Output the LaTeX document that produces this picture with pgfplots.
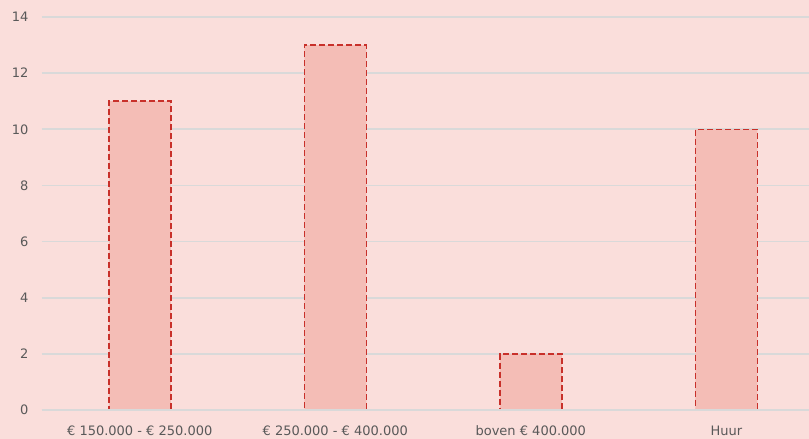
\documentclass[border=0pt]{standalone}
\usepackage{pgfplots}
\pgfplotsset{compat=1.18}
\usepackage{fontspec}
\setmainfont{DejaVu Sans}
\definecolor{bg}{HTML}{FADEDB}
\definecolor{barfill}{HTML}{F4BDB6}
\definecolor{barline}{HTML}{C8302A}
\definecolor{gridc}{HTML}{D9D9D9}
\definecolor{txt}{HTML}{595959}
\begin{document}
\begin{tikzpicture}
\fill[bg] (0,0) rectangle (809pt,439pt);
\useasboundingbox (0,0) rectangle (809pt,439pt);
\begin{axis}[
  at={(42pt,29pt)}, anchor=south west,
  scale only axis, width=767pt, height=393pt,
  xmin=-0.5, xmax=3.423, ymin=0, ymax=14,
  ytick={0,2,...,14},
  xtick={0,1,2,3},
  xticklabels={€ 150.000 - € 250.000, € 250.000 - € 400.000, boven € 400.000, Huur},
  axis line style={draw=none},
  major tick length=0pt,
  ymajorgrids, grid style={gridc, line width=1.6pt},
  tick label style={font=\fontsize{13}{15}\selectfont, text=txt},
  yticklabel style={xshift=-10pt},
  xticklabel style={anchor=base, yshift=-26pt},
  /pgf/number format/assume math mode=true,
  clip=false,
]
\addplot[ybar, bar width=62pt, fill=barfill, draw=barline, line width=1.5pt, dash pattern=on 6pt off 3pt]
  coordinates {(0,11) (1,13) (2,2) (3,10)};
\draw[gridc, line width=2pt] (axis cs:-0.5,0) -- (axis cs:3.423,0);
\end{axis}
\end{tikzpicture}
\end{document}
